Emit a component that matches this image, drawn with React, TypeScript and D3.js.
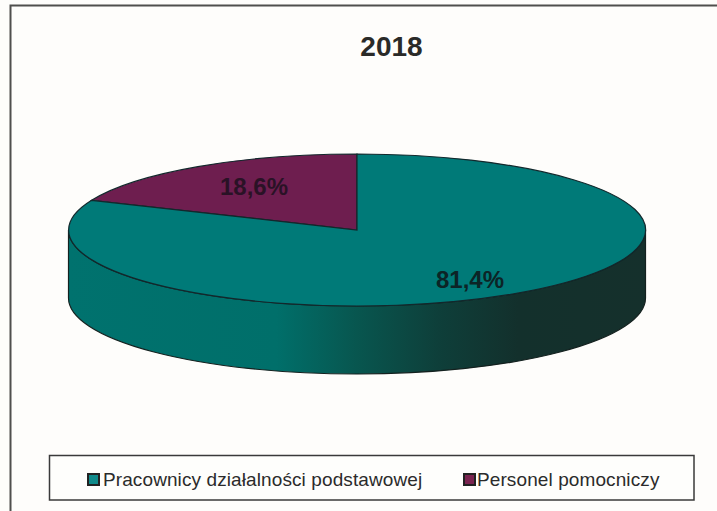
import React from "react";
import * as d3 from "d3";

const title = "2018";
const categories = ["Personel pomocniczy", "Pracownicy działalności podstawowej"];
const shares = [18.6, 81.4];
const shareLabels = ["18,6%", "81,4%"];
const sliceColors = ["#6e1e4f", "#007a78"];
const legendSwatches = ["#7a2450", "#0f8a8a"];
const legendOrder = [1, 0];

const W = 717;
const H = 511;
const cx = 357;
const cy = 230;
const rx = 288.5;
const ry = 76;
const depth = 68;

// Side wall shading runs from the full teal into a near-black green.
const wallStops: [number, string][] = [
  [0, "#00726e"],
  [0.36, "#006f6a"],
  [0.5, "#08564f"],
  [0.64, "#0e3f3a"],
  [0.78, "#13302c"],
  [1, "#15302c"],
];

export default function App() {
  const pie = d3.pie<number>().sort(null).startAngle(-2 * Math.PI * (shares[0] / 100)).endAngle(2 * Math.PI * (1 - shares[0] / 100));
  const arcs = pie(shares);
  const unitArc = d3.arc<d3.PieArcDatum<number>>().innerRadius(0).outerRadius(1);

  const x = d3.scaleLinear().domain([-1, 1]).range([cx - rx, cx + rx]);
  const y = d3.scaleLinear().domain([-1, 1]).range([cy - ry, cy + ry]);

  // Visible front half of the cylinder wall.
  const wall = `M${x(-1)},${y(0)} A${rx},${ry} 0 0 0 ${x(1)},${y(0)} L${x(1)},${y(0) + depth} A${rx},${ry} 0 0 1 ${x(-1)},${y(0) + depth} Z`;

  return (
    <svg
      width={W}
      height={H}
      viewBox={`0 0 ${W} ${H}`}
      style={{ position: "absolute", left: 0, top: 0, display: "block" }}
      fontFamily="'Liberation Sans', Arial, sans-serif"
    >
      <defs>
        <linearGradient id="wallShade" x1="0" x2="1" y1="0" y2="0">
          {wallStops.map(([o, c]) => (
            <stop key={o} offset={o} stopColor={c} />
          ))}
        </linearGradient>
      </defs>
      <rect width={W} height={H} fill="#fefdfb" />
      <path d={`M10.5,${H} V5.5 H${W}`} fill="none" stroke="#4f4f4d" strokeWidth={2} />
      <text x={391.5} y={56} textAnchor="middle" fontSize={28} fontWeight={700} fill="#2a2a28">
        {title}
      </text>

      <path d={wall} fill="url(#wallShade)" stroke="#14211f" strokeWidth={1.2} />
      <g transform={`translate(${cx},${cy}) scale(${rx},${ry})`}>
        {arcs.map((a, i) => (
          <path
            key={categories[i]}
            d={unitArc(a) as string}
            fill={sliceColors[i]}
            stroke="#12282c"
            strokeWidth={1.2}
            vectorEffect="non-scaling-stroke"
          />
        ))}
      </g>

      <text x={254} y={195} textAnchor="middle" fontSize={24} fontWeight={700} fill="#2a1226">
        {shareLabels[0]}
      </text>
      <text x={470} y={288} textAnchor="middle" fontSize={24} fontWeight={700} fill="#0c2426">
        {shareLabels[1]}
      </text>

      <rect x={49.5} y={455.5} width={644.5} height={44.5} fill="#fefefc" stroke="#3a3a3a" strokeWidth={1.5} />
      <g fontSize={19} fill="#2b2b2b" letterSpacing={0.1}>
        <rect x={88} y={474} width={11} height={11} fill={legendSwatches[legendOrder[0]]} stroke="#222" strokeWidth={2} />
        <text x={103} y={485.5}>{categories[legendOrder[0]]}</text>
        <rect x={464} y={474} width={11} height={11} fill={legendSwatches[legendOrder[1]]} stroke="#222" strokeWidth={2} />
        <text x={477} y={485.5}>{categories[legendOrder[1]]}</text>
      </g>
    </svg>
  );
}
